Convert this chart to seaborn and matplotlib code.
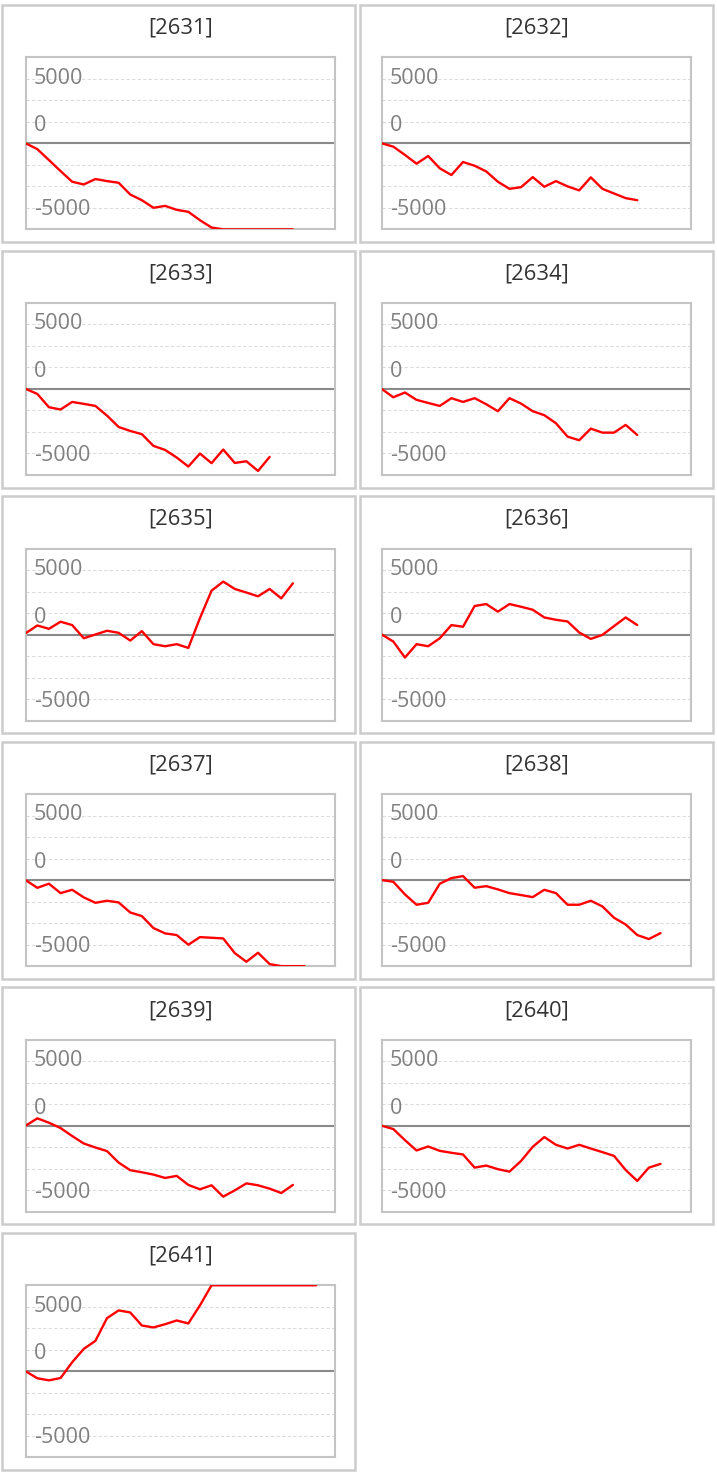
import numpy as np
import matplotlib
matplotlib.use("Agg")
import matplotlib.pyplot as plt
import matplotlib.transforms as mtrans
from matplotlib.patches import Rectangle
import seaborn as sns

# ---------------- data ----------------
titles = ["[2631]", "[2632]", "[2633]", "[2634]", "[2635]", "[2636]",
          "[2637]", "[2638]", "[2639]", "[2640]", "[2641]"]

s2631 = [0, -450, -1300, -2150, -2980, -3190, -2770, -2930, -3060, -3970, -4410,
         -5000, -4850, -5160, -5310, -5960, -6530, -6670, -6670, -6670, -6670,
         -6670, -6670, -6670]
s2632 = [0, -260, -900, -1580, -985, -1940, -2460, -1450, -1740, -2180, -2980,
         -3530, -3400, -2620, -3370, -2930, -3340, -3650, -2640, -3530, -3890,
         -4250, -4410]
s2633 = [0, -390, -1420, -1600, -1010, -1160, -1320, -2070, -2950, -3260, -3510,
         -4420, -4730, -5320, -6020, -5010, -5760, -4700, -5740, -5610, -6360,
         -5270]
s2634 = [0, -650, -280, -850, -1090, -1320, -720, -1010, -720, -1190, -1730,
         -720, -1140, -1730, -2040, -2660, -3700, -3980, -3080, -3390, -3390,
         -2790, -3570]
s2635 = [100, 700, 440, 990, 730, -290, 0, 290, 130, -470, 260, -750, -910,
         -750, -1040, 1270, 3400, 4100, 3530, 3250, 2960, 3530, 2800, 3970]
s2636 = [0, -545, -1790, -750, -910, -290, 730, 600, 2210, 2360, 1770, 2360,
         2150, 1920, 1320, 1140, 1010, 160, -340, -30, 650, 1320, 730]
s2637 = [0, -600, -280, -1010, -750, -1340, -1760, -1600, -1730, -2510, -2790,
         -3720, -4130, -4260, -5010, -4420, -4470, -4520, -5660, -6330, -5630,
         -6510, -6670, -6670, -6670]
s2638 = [0, -130, -1110, -1910, -1760, -280, 155, 310, -590, -470, -720, -1010,
         -1160, -1320, -750, -1010, -1910, -1910, -1600, -2040, -2920, -3440,
         -4260, -4570, -4110]
s2639 = [0, 570, 230, -180, -800, -1380, -1690, -1970, -2860, -3450, -3610,
         -3790, -4050, -3890, -4590, -4930, -4620, -5500, -5010, -4470, -4620,
         -4880, -5220, -4590]
s2640 = [0, -260, -1120, -1920, -1610, -1950, -2100, -2230, -3250, -3090, -3370,
         -3560, -2730, -1640, -880, -1480, -1770, -1480, -1770, -2050, -2340,
         -3430, -4280, -3250, -2960]
s2641 = [0, -540, -700, -520, 700, 1740, 2360, 4120, 4720, 4560, 3550, 3400,
         3650, 3940, 3710, 5110, 6670, 6670, 6670, 6670, 6670, 6670, 6670, 6670,
         6670, 6670]

series = [s2631, s2632, s2633, s2634, s2635, s2636,
          s2637, s2638, s2639, s2640, s2641]

tick_labels = ["5000", "0", "-5000"]
tick_label_pos = [5050, 1350, -5170]   # where the labels sit on the axis

# ---------------- style ----------------
sns.set_style("white")
plt.rcParams["font.family"] = ["Open Sans", "DejaVu Sans"]

W, H, DPI = 717, 1474, 100
fig = plt.figure(figsize=(W / DPI, H / DPI), dpi=DPI)

grid_step = 5000 / 3.0
ymax = 4 * grid_step
xmax = 26.6

box_left = [1.7, 359.7]
box_w = 353.5
box_top0 = 5.0
box_h = 237.0
row_pitch = 245.6
plot_left = [25.7, 381.7]
plot_w = 309.0
plot_top0 = 57.3
plot_h = 172.0

for idx, (title, vals) in enumerate(zip(titles, series)):
    row, col = divmod(idx, 2)
    # outer panel box
    bx = box_left[col]
    by = box_top0 + row * row_pitch
    fig.patches.append(Rectangle((bx / W, 1 - (by + box_h) / H), box_w / W, box_h / H,
                                 transform=fig.transFigure, fill=False,
                                 edgecolor="#cccccc", linewidth=1.8, zorder=0))
    # plot area
    px = plot_left[col]
    py = plot_top0 + row * row_pitch
    ax = fig.add_axes([px / W, 1 - (py + plot_h) / H, plot_w / W, plot_h / H])
    ax.set_xlim(0, xmax)
    ax.set_ylim(-ymax, ymax)
    for k in [-3, -2, -1, 1, 2, 3]:
        ax.axhline(k * grid_step, color="#dcdcdc", lw=0.8, ls=(0, (3, 2)), zorder=1)
    ax.axhline(0, color="#8a8a8a", lw=1.5, zorder=2)

    xs = np.arange(len(vals))
    sns.lineplot(x=xs, y=np.array(vals, dtype=float), ax=ax, color="#ff0000",
                 linewidth=1.7, zorder=3)

    ax.set_xticks([])
    ax.set_yticks([])
    ax.set_xlabel("")
    ax.set_ylabel("")
    for sp in ax.spines.values():
        sp.set_visible(True)
        sp.set_color("#c4c4c4")
        sp.set_linewidth(1.5)
        sp.set_zorder(2.5)

    trans = mtrans.blended_transform_factory(ax.transAxes, ax.transData)
    for lab, yv in zip(tick_labels, tick_label_pos):
        ax.text(8 / plot_w, yv, lab, transform=trans, ha="left", va="center",
                fontsize=15.5, color="#808080", zorder=4)

    fig.text((px + plot_w / 2) / W, 1 - (py - 29) / H, title, ha="center",
             va="center", fontsize=15.8, color="#333333")

fig.savefig("out.png", dpi=DPI)
